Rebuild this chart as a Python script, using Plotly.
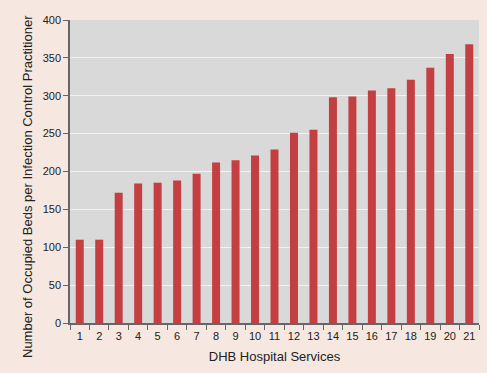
import plotly.graph_objects as go

categories = [str(i) for i in range(1, 22)]
values = [110, 110, 172, 184, 185, 188, 197, 212, 215, 221, 229, 251, 255, 298, 299, 307, 310, 321, 337, 355, 368]
y_ticks = [0, 50, 100, 150, 200, 250, 300, 350, 400]

W, H = 487, 373
ML, MR, MT, MB = 70, 8, 20, 50
PW, PH = W - ML - MR, H - MT - MB

fig = go.Figure(go.Bar(x=categories, y=values, marker=dict(color="#c43f41", line=dict(width=0))))

fig.update_layout(
    width=W, height=H,
    paper_bgcolor="#f6e7e0", plot_bgcolor="#d9d9d9",
    margin=dict(l=ML, r=MR, t=MT, b=MB),
    bargap=0.59,
    font=dict(family="Liberation Sans, Arial, sans-serif", color="#222222"),
    showlegend=False,
)
fig.update_xaxes(
    type="category", showline=True, linecolor="#666666", linewidth=1.5,
    ticks="outside", ticklen=5, tickcolor="#666666", tickson="boundaries",
    tickfont=dict(size=11), tickangle=0, showgrid=False, ticklabelstandoff=2,
    title=dict(text="DHB Hospital Services", font=dict(size=13), standoff=11),
)
fig.update_yaxes(
    range=[0, 400], tickvals=y_ticks, showline=True, linecolor="#666666", linewidth=1.5,
    ticks="outside", ticklen=5, tickcolor="#666666", tickfont=dict(size=11),
    gridcolor="#fbeeee", gridwidth=1, zeroline=False,
)
fig.add_annotation(
    text="Number of Occupied Beds per Infection Control Practitioner",
    textangle=-90, showarrow=False, font=dict(size=13),
    xref="paper", yref="paper",
    x=(27.5 - ML) / PW, y=(H - MB - H / 2) / PH,
    xanchor="center", yanchor="middle",
)
fig.write_html("out.html", config={"displayModeBar": False},
               post_script="document.body.style.margin='0';document.body.style.overflow='hidden';")
